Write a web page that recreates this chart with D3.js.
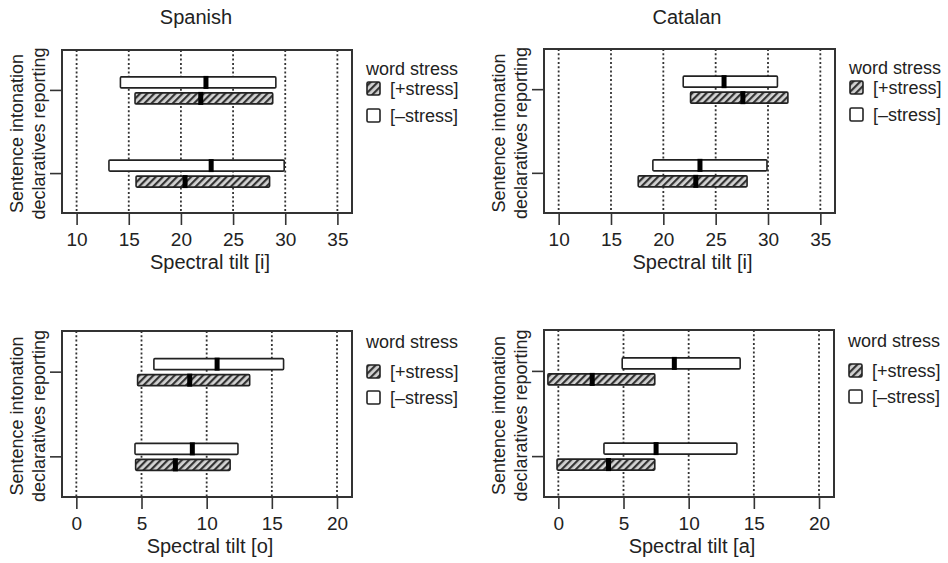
<!DOCTYPE html>
<html>
<head>
<meta charset="utf-8">
<script src="https://cdn.jsdelivr.net/npm/d3@7"></script>
<style>
  body { margin: 0; background: #fff; }
  svg { font-family: "Liberation Sans", Arial, Helvetica, sans-serif; }
</style>
</head>
<body>
<svg id="chart"></svg>
<script>
// categories, bottom to top
let categories = ["declaratives", "reporting"];
let stress_levels = ["[+stress]", "[–stress]"];

// [low, median, high] for each category (same order as categories)
let spanish_i_plus  = [[15.7, 20.4, 28.5], [15.6, 21.9, 28.8]];
let spanish_i_minus = [[13.1, 22.9, 29.9], [14.2, 22.4, 29.1]];
let catalan_i_plus  = [[17.6, 23.1, 28.0], [22.6, 27.6, 31.9]];
let catalan_i_minus = [[19.0, 23.5, 29.9], [21.9, 25.8, 30.9]];
let spanish_o_plus  = [[4.55, 7.6, 11.8], [4.7, 8.7, 13.3]];
let spanish_o_minus = [[4.5, 8.9, 12.4], [5.95, 10.8, 15.9]];
let catalan_a_plus  = [[-0.1, 3.85, 7.4], [-0.8, 2.6, 7.4]];
let catalan_a_minus = [[3.5, 7.5, 13.7], [4.9, 8.9, 13.95]];

let ticks_i = [10, 15, 20, 25, 30, 35];
let ticks_oa = [0, 5, 10, 15, 20];
let domain_i = [8.6, 36.4];
let domain_oa = [-1.1, 21.15];

let titles = ["Spanish", "Catalan"];
let x_titles = ["Spectral tilt [i]", "Spectral tilt [i]", "Spectral tilt [o]", "Spectral tilt [a]"];

let width = 948, height = 563;
let svg = d3.select('#chart').attr('width', width).attr('height', height);

// 斜线填充
let defs = svg.append('defs');
let pat = defs.append('pattern')
    .attr('id', 'hatch')
    .attr('patternUnits', 'userSpaceOnUse')
    .attr('width', 5).attr('height', 5)
    .attr('patternTransform', 'rotate(45)');
pat.append('rect').attr('width', 5).attr('height', 5).attr('fill', '#d4d4d4');
pat.append('line').attr('x1', 1).attr('x2', 1).attr('y1', 0).attr('y2', 5)
    .attr('stroke', '#333').attr('stroke-width', 2.4);

let panels = [
    { left: 62,  top: 50,  w: 290, h: 163, plus: spanish_i_plus, minus: spanish_i_minus, dom: domain_i, ticks: ticks_i, xt: x_titles[0], row: 0 },
    { left: 544, top: 49,  w: 291, h: 164, plus: catalan_i_plus, minus: catalan_i_minus, dom: domain_i, ticks: ticks_i, xt: x_titles[1], row: 0 },
    { left: 62,  top: 331, w: 290, h: 166, plus: spanish_o_plus, minus: spanish_o_minus, dom: domain_oa, ticks: ticks_oa, xt: x_titles[2], row: 1 },
    { left: 544, top: 330, w: 290, h: 167, plus: catalan_a_plus, minus: catalan_a_minus, dom: domain_oa, ticks: ticks_oa, xt: x_titles[3], row: 1 }
];

// column titles
svg.append('text').attr('x', 196).attr('y', 24).attr('text-anchor', 'middle')
    .attr('font-size', 20).attr('fill', '#222').text(titles[0]);
svg.append('text').attr('x', 687).attr('y', 24).attr('text-anchor', 'middle')
    .attr('font-size', 20).attr('fill', '#222').text(titles[1]);

panels.forEach(p => draw_panel(p));

function draw_panel(p) {
    let g = svg.append('g').attr('transform', `translate(${p.left},${p.top})`);
    let x = d3.scaleLinear(p.dom, [0, p.w]);
    let y = d3.scalePoint(categories, [p.h, 0]).padding(0.48);
    // 每个类别内的两根条
    let sub = d3.scaleBand(["minus", "plus"], [-13, 14]).paddingInner(0.3125);

    // dotted grid
    g.selectAll('.grid').data(p.ticks).join('line')
        .attr('x1', d => x(d)).attr('x2', d => x(d))
        .attr('y1', 0).attr('y2', p.h)
        .attr('stroke', '#333').attr('stroke-width', 1.8)
        .attr('stroke-dasharray', '2,2.3');

    // bottom axis
    let xAxis = d3.axisBottom(x).tickValues(p.ticks).tickSize(12).tickPadding(8);
    let ax = g.append('g').attr('transform', `translate(0,${p.h})`).call(xAxis);
    ax.select('.domain').remove();
    ax.selectAll('.tick line').attr('stroke', '#333').attr('stroke-width', 1.6);
    ax.selectAll('.tick text').attr('font-size', 19).attr('fill', '#222')
        .attr('font-family', '"Liberation Sans", Arial, sans-serif');

    // left axis (ticks only)
    let yAxis = d3.axisLeft(y).tickSize(12).tickFormat('');
    let ay = g.append('g').call(yAxis);
    ay.select('.domain').remove();
    ay.selectAll('.tick line').attr('stroke', '#333').attr('stroke-width', 1.6);

    // bars
    let rows = [];
    categories.forEach((c, i) => {
        rows.push({ cat: c, s: "minus", v: p.minus[i] });
        rows.push({ cat: c, s: "plus", v: p.plus[i] });
    });
    let bars = g.selectAll('.bar').data(rows).join('g');
    bars.append('rect')
        .attr('x', d => x(d.v[0]))
        .attr('width', d => x(d.v[2]) - x(d.v[0]))
        .attr('y', d => y(d.cat) + sub(d.s))
        .attr('height', sub.bandwidth())
        .attr('rx', 1)
        .attr('fill', d => d.s === "plus" ? 'url(#hatch)' : '#fff')
        .attr('stroke', '#222').attr('stroke-width', 1.6);
    bars.append('rect')
        .attr('x', d => x(d.v[1]) - 2.5)
        .attr('width', 5)
        .attr('y', d => y(d.cat) + sub(d.s) - 1)
        .attr('height', sub.bandwidth() + 2)
        .attr('fill', '#000');

    // frame
    g.append('rect').attr('width', p.w).attr('height', p.h)
        .attr('fill', 'none').attr('stroke', '#333').attr('stroke-width', 2);

    // x title
    g.append('text').attr('x', p.w / 2 + 3).attr('y', p.h + 56)
        .attr('text-anchor', 'middle').attr('font-size', 20).attr('fill', '#222')
        .text(p.xt);

    // y titles (rotated)
    let cy = p.h / 2 + 2;
    g.append('text').attr('transform', `translate(${-39},${cy}) rotate(-90)`)
        .attr('text-anchor', 'middle').attr('font-size', 18).attr('fill', '#222')
        .text("Sentence intonation");
    g.append('text').attr('transform', `translate(${-17},${cy}) rotate(-90)`)
        .attr('text-anchor', 'middle').attr('font-size', 18).attr('fill', '#222')
        .text(categories.join(' '));

    // legend
    let lg = g.append('g').attr('transform', `translate(${p.w + 14},0)`);
    let off = p.row === 0 ? [25, 32, 59] : [17, 34, 60];
    lg.append('text').attr('x', 0).attr('y', off[0]).attr('font-size', 18).attr('fill', '#222')
        .text('word stress');
    let fills = ['url(#hatch)', '#fff'];
    stress_levels.forEach((s, i) => {
        lg.append('rect').attr('x', 1).attr('y', off[i + 1]).attr('width', 13).attr('height', 13)
            .attr('rx', 1.5)
            .attr('fill', fills[i]).attr('stroke', '#222').attr('stroke-width', 1.6);
        lg.append('text').attr('x', 24).attr('y', off[i + 1] + 13).attr('font-size', 18).attr('fill', '#222')
            .text(s);
    });
}
</script>
</body>
</html>
